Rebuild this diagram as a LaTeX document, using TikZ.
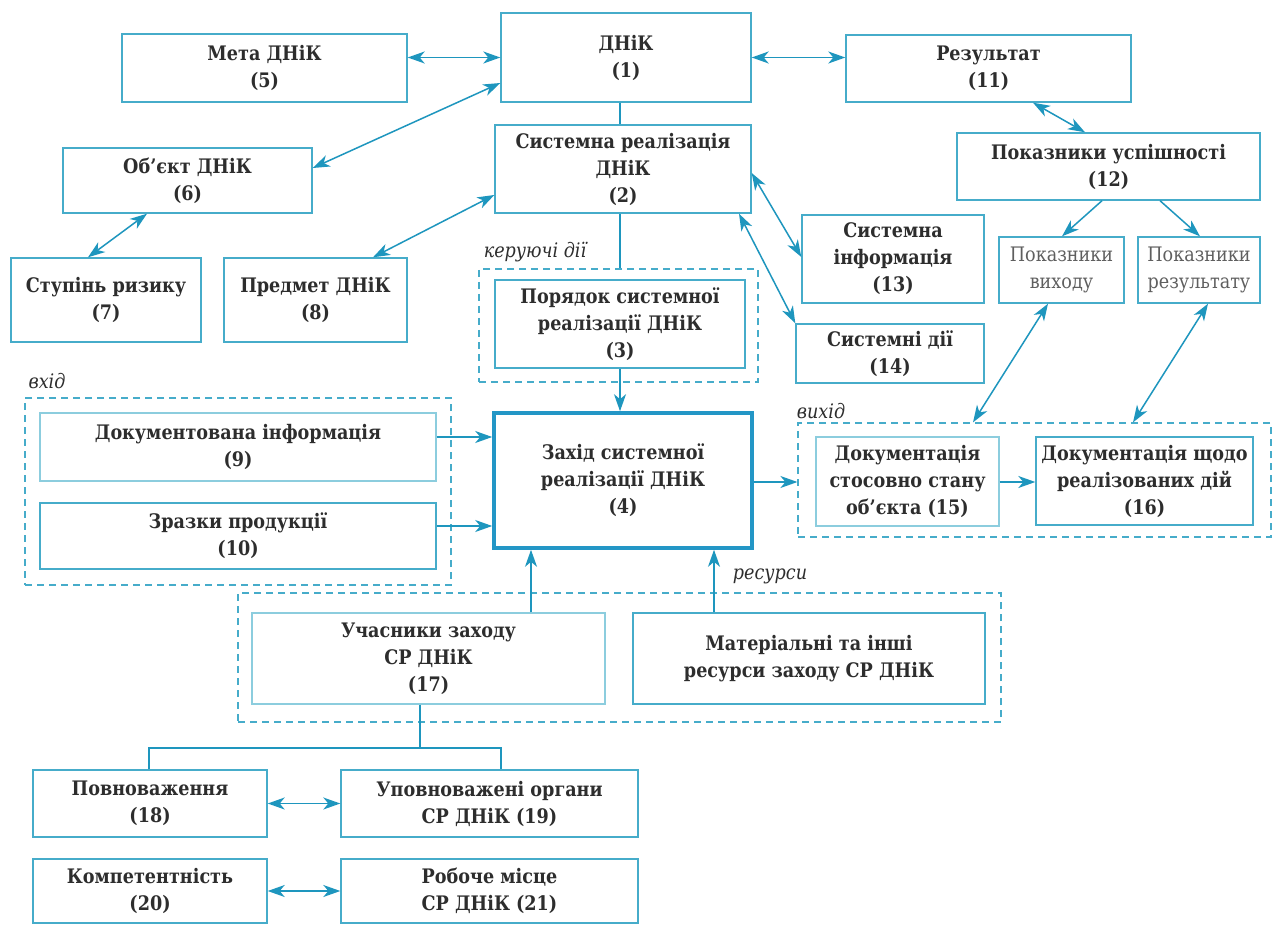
\documentclass[tikz,border=0pt]{standalone}
\usepackage{fontspec}
\setmainfont{DejaVu Serif}[FakeStretch=0.88]
\usetikzlibrary{arrows.meta,calc}
\definecolor{boxc}{RGB}{70,172,202}
\definecolor{boxl}{RGB}{140,205,222}
\definecolor{arrc}{RGB}{30,150,190}
\definecolor{thickc}{RGB}{35,150,198}
\definecolor{txt}{RGB}{45,45,45}
\definecolor{txtl}{RGB}{95,95,95}
\tikzset{
  box/.style={draw=boxc, line width=1.4pt, align=center, text=txt, inner sep=0pt,
    font=\fontsize{20}{27}\selectfont\bfseries},
  lbox/.style={box, draw=boxl},
  pbox/.style={draw=boxc, line width=1.4pt, align=center, text=txtl, inner sep=0pt,
    font=\fontsize{20}{27}\selectfont},
  mainbox/.style={box, draw=thickc, line width=3.6pt},
  grp/.style={draw=boxc, line width=1.2pt, dash pattern=on 7pt off 5pt, inner sep=0pt},
  lbl/.style={text=txt, font=\fontsize{20}{24}\selectfont\itshape, inner sep=0pt},
  tip/.tip={Stealth[length=17pt,width=12pt,inset=5pt]},
  dbl/.style={draw=arrc, line width=1.5pt, tip-tip},
  one/.style={draw=arrc, line width=1.5pt, -tip},
  ln/.style={draw=arrc, line width=1.3pt},
}
\begin{document}
\begin{tikzpicture}[x=1pt,y=-1pt]
\useasboundingbox[fill=white] (0,0) rectangle (1277,925);

% groups
\node[grp, minimum width=279pt, minimum height=113pt] (g3) at (618.5,325.5) {};
\node[grp, minimum width=426pt, minimum height=187pt] (gin) at (238,491.5) {};
\node[grp, minimum width=473pt, minimum height=114pt] (gout) at (1034.5,480) {};
\node[grp, minimum width=763pt, minimum height=129pt] (gres) at (619.5,657.5) {};

% nodes
\node[box, minimum width=250pt, minimum height=89pt] (n1) at (626,57.5) {ДНіК\\(1)};
\node[box, minimum width=285pt, minimum height=68pt] (n5) at (264.5,68) {Мета ДНіК\\(5)};
\node[box, minimum width=285pt, minimum height=67pt] (n11) at (988.5,68.5) {Результат\\(11)};
\node[box, minimum width=256pt, minimum height=88pt] (n2) at (623,169) {Системна реалізація\\ДНіК\\(2)};
\node[box, minimum width=249pt, minimum height=65pt] (n6) at (187.5,180.5) {Об’єкт ДНіК\\(6)};
\node[box, minimum width=303pt, minimum height=67pt] (n12) at (1108.5,166.5) {Показники успішності\\(12)};
\node[box, minimum width=190pt, minimum height=84pt] (n7) at (106,300) {Ступінь ризику\\(7)};
\node[box, minimum width=183pt, minimum height=84pt] (n8) at (315.5,300) {Предмет ДНіК\\(8)};
\node[box, minimum width=182pt, minimum height=88pt] (n13) at (893,259) {Системна\\інформація\\(13)};
\node[box, minimum width=188pt, minimum height=59pt] (n14) at (890,353.5) {Системні дії\\(14)};
\node[pbox, minimum width=125pt, minimum height=66pt] (pv) at (1061.5,270) {Показники\\виходу};
\node[pbox, minimum width=122pt, minimum height=66pt] (pr) at (1199,270) {Показники\\результату};
\node[box, minimum width=250pt, minimum height=88pt] (n3) at (620,324) {Порядок системної\\реалізації ДНіК\\(3)};
\node[mainbox, minimum width=258pt, minimum height=135pt] (n4) at (623,480.5) {Захід системної\\реалізації ДНіК\\(4)};
\node[lbox, minimum width=396pt, minimum height=68pt] (n9) at (238,447) {Документована інформація\\(9)};
\node[box, minimum width=396pt, minimum height=66pt] (n10) at (238,536) {Зразки продукції\\(10)};
\node[lbox, minimum width=183pt, minimum height=89pt] (n15) at (907.5,481.5) {Документація\\стосовно стану\\об’єкта (15)};
\node[box, minimum width=217pt, minimum height=88pt] (n16) at (1144.5,481) {Документація щодо\\реалізованих дій\\(16)};
\node[lbox, minimum width=353pt, minimum height=91pt] (n17) at (428.5,658.5) {Учасники заходу\\СР ДНіК\\(17)};
\node[box, minimum width=352pt, minimum height=91pt] (nm) at (809,658.5) {Матеріальні та інші\\ресурси заходу СР ДНіК};
\node[box, minimum width=234pt, minimum height=67pt] (n18) at (150,803.5) {Повноваження\\(18)};
\node[box, minimum width=297pt, minimum height=67pt] (n19) at (489.5,803.5) {Уповноважені органи\\СР ДНіК (19)};
\node[box, minimum width=234pt, minimum height=64pt] (n20) at (150,891) {Компетентність\\(20)};
\node[box, minimum width=297pt, minimum height=64pt] (n21) at (489.5,891) {Робоче місце\\СР ДНіК (21)};

% labels
\node[lbl] (lk) at (535,252) {керуючі дії};
\node[lbl] (lin) at (47,381) {вхід};
\node[lbl] (lout) at (821,411) {вихід};
\node[lbl] (lres) at (770,576) {ресурси};

% connectors
\draw[dbl] (n5.east |- n1.center) -- (n1.west);
\draw[dbl] (n1.east) -- (n11.west |- n1.center);
\draw[dbl] (n1.west |- 0,83) -- (n6.east |- 0,168);
\draw[dbl] (n6.south -| 147,0) -- (n7.north -| 88,0);
\draw[dbl] (n2.west |- 0,195) -- (n8.north -| 373,0);
\draw[dbl] (n2.east |- 0,173) -- (n13.west |- 0,257);
\draw[dbl] (n2.south -| 739,0) -- (n14.north west);
\draw[dbl] (n11.south -| 1033,0) -- (n12.north -| 1085,0);
\draw[one] (n12.south -| 1102,0) -- (pv.north -| 1062,0);
\draw[one] (n12.south -| 1160,0) -- (pr.north -| 1200,0);
\draw[dbl] (pv.south -| 1048,0) -- (gout.north -| 973,0);
\draw[dbl] (pr.south -| 1208,0) -- (gout.north -| 1133,0);
\draw[ln] (n1.south -| n3.center) -- (n2.north -| n3.center);
\draw[ln] (n2.south -| n3.center) -- (g3.north -| n3.center);
\draw[one] (n3.south) -- (n4.north -| n3.south);
\draw[one] (n9.east |- 0,437) -- (n4.west |- 0,437);
\draw[one] (n10.east |- 0,526) -- (n4.west |- 0,526);
\draw[one] (n4.east |- 0,482) -- (gout.west |- 0,482);
\draw[one] (n15.east |- 0,482) -- (n16.west |- 0,482);
\draw[one] (n17.north -| 531,0) -- (n4.south -| 531,0);
\draw[one] (nm.north -| 714,0) -- (n4.south -| 714,0);
\coordinate (t) at (420,748);
\draw[ln] (n17.south -| t) -- (t);
\draw[ln] (n18.north -| 149,0) |- (t) -| (n19.north -| 501,0);
\draw[dbl] (n18.east) -- (n19.west);
\draw[dbl] (n20.east) -- (n21.west);
\end{tikzpicture}
\end{document}
